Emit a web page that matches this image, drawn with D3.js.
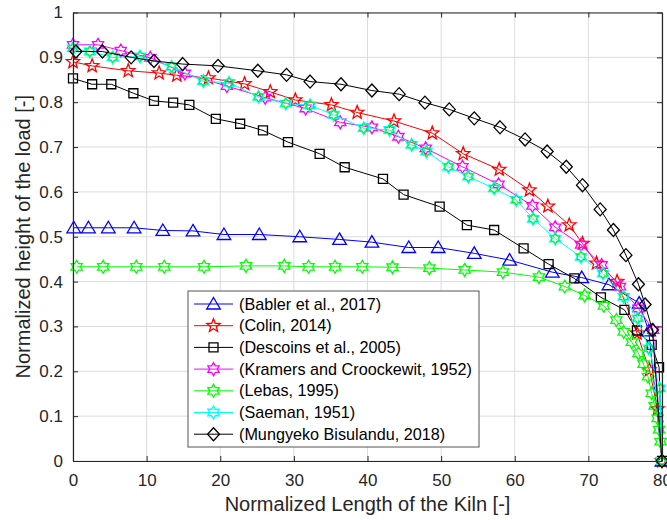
<!DOCTYPE html>
<html>
<head>
<meta charset="utf-8">
<script src="https://cdn.jsdelivr.net/npm/d3@7"></script>
<style>
  body { margin: 0; background: #fff; }
  svg { display: block; font-family: "Liberation Sans", Arial, sans-serif; }
</style>
</head>
<body>
<svg id="chart" width="667" height="520"></svg>
<script>
// values (normalized length, normalized height)
var xTicks = [0, 10, 20, 30, 40, 50, 60, 70, 80];
var yTicks = [0, 0.1, 0.2, 0.3, 0.4, 0.5, 0.6, 0.7, 0.8, 0.9, 1];

var seriesNames = ["(Babler et al., 2017)", "(Colin, 2014)", "(Descoins et al., 2005)",
                   "(Kramers and Croockewit, 1952)", "(Lebas, 1995)", "(Saeman, 1951)",
                   "(Mungyeko Bisulandu, 2018)"];

var bablerX = [0.1, 2.1, 4.8, 8.3, 12.2, 16.3, 20.5, 25.3, 30.8, 36.2, 40.6, 45.6, 49.6, 54.5, 59.3, 65.1, 69.1, 72.8, 76.9, 78.2, 80];
var bablerY = [0.52, 0.52, 0.52, 0.52, 0.514, 0.513, 0.505, 0.505, 0.50, 0.494, 0.488, 0.476, 0.476, 0.463, 0.448, 0.421, 0.409, 0.393, 0.352, 0.29, 0];

var colinX = [0, 2.6, 7.5, 11.7, 14.1, 18.4, 23.3, 26.8, 30.2, 35.1, 38.6, 43.6, 48.8, 53, 57.9, 62, 64.5, 67.4, 69.2, 71.1, 73.9, 76.6, 78.3, 79.4, 80];
var colinY = [0.89, 0.881, 0.87, 0.865, 0.86, 0.854, 0.841, 0.823, 0.805, 0.794, 0.777, 0.758, 0.731, 0.685, 0.65, 0.604, 0.568, 0.526, 0.485, 0.441, 0.40, 0.285, 0.203, 0.116, 0];

var descoinsX = [0, 2.6, 5.2, 8.2, 11, 13.6, 15.8, 19.4, 22.7, 25.8, 29.2, 33.5, 36.9, 42.1, 44.9, 49.8, 53.5, 57.2, 61.2, 64.6, 68.1, 71.7, 74.9, 76.6, 78.6, 79.6, 80];
var descoinsY = [0.853, 0.84, 0.84, 0.82, 0.803, 0.799, 0.794, 0.763, 0.752, 0.737, 0.711, 0.685, 0.655, 0.629, 0.594, 0.567, 0.526, 0.515, 0.474, 0.439, 0.407, 0.365, 0.337, 0.291, 0.259, 0.209, 0];

var kramersX = [0, 3.4, 6.5, 10.5, 15.2, 20.9, 26.1, 31.6, 36.3, 40.6, 44.2, 47.9, 52.9, 57.8, 62.4, 65.5, 69, 71.8, 74.3, 76.8, 78.8, 80];
var kramersY = [0.928, 0.928, 0.915, 0.899, 0.864, 0.836, 0.81, 0.786, 0.755, 0.744, 0.723, 0.697, 0.656, 0.617, 0.569, 0.521, 0.482, 0.437, 0.389, 0.34, 0.292, 0];

var lebasX = [0.5, 4.1, 8.6, 12.4, 17.8, 23.5, 28.7, 32, 35.6, 39.3, 43.4, 48.4, 53.2, 58.4, 63.3, 66.8, 69.5, 72.1, 73.8, 74.8, 75.9, 76.8, 77.5, 78.1, 78.6, 79, 79.4, 79.6, 79.8, 80];
var lebasY = [0.433, 0.433, 0.433, 0.433, 0.433, 0.435, 0.435, 0.433, 0.433, 0.433, 0.432, 0.43, 0.426, 0.421, 0.41, 0.389, 0.369, 0.346, 0.314, 0.288, 0.265, 0.24, 0.216, 0.188, 0.151, 0.123, 0.095, 0.07, 0.043, 0];

var saemanX = [0, 2.3, 5.4, 9.1, 13.4, 17.7, 21.2, 25.2, 28.9, 32.2, 35.4, 39.5, 43, 46, 48, 51, 53.7, 57.2, 60.2, 62.5, 65.5, 69, 72, 74.8, 76.7, 78.2, 79.7, 80];
var saemanY = [0.92, 0.913, 0.90, 0.902, 0.879, 0.847, 0.843, 0.812, 0.797, 0.793, 0.772, 0.742, 0.738, 0.705, 0.69, 0.656, 0.634, 0.608, 0.582, 0.54, 0.496, 0.455, 0.418, 0.366, 0.318, 0.251, 0.162, 0];

var mungX = [0.4, 4, 7.9, 11, 14.9, 19.7, 25.1, 29, 32.2, 36.4, 40.6, 44.3, 47.8, 51.1, 54.5, 58, 61.4, 64.4, 67, 69.2, 71.6, 73.4, 75.1, 76.8, 77.7, 78.7, 80];
var mungY = [0.913, 0.913, 0.9, 0.892, 0.885, 0.881, 0.870, 0.861, 0.846, 0.84, 0.826, 0.818, 0.799, 0.784, 0.764, 0.744, 0.717, 0.69, 0.656, 0.615, 0.561, 0.515, 0.459, 0.394, 0.349, 0.292, 0];

var svg = d3.select("#chart");
var pLeft = 73, pRight = 662, pTop = 12.5, pBottom = 461;
var axisColor = "#262626";

var x = d3.scaleLinear().domain([0, 80]).range([pLeft, pRight]);
var y = d3.scaleLinear().domain([0, 1]).range([pBottom, pTop]);

// marker paths
function starPath(n, r1, r2) {
  var pts = [];
  for (var i = 0; i < 2 * n; i++) {
    var a = -Math.PI / 2 + i * Math.PI / n;
    var r = i % 2 === 0 ? r1 : r2;
    pts.push([r * Math.cos(a), r * Math.sin(a)]);
  }
  return "M" + pts.map(function(p) { return p[0].toFixed(2) + "," + p[1].toFixed(2); }).join("L") + "Z";
}
var markerPaths = {
  triangle: "M0,-6.5L6.8,5L-6.8,5Z",
  square: "M-4.5,-4.5L4.5,-4.5L4.5,4.5L-4.5,4.5Z",
  diamond: "M0,-6.5L6,0L0,6.5L-6,0Z",
  pentagram: starPath(5, 7, 3),
  hexagram: starPath(6, 6.5, 3.75)
};

var series = [
  {name: seriesNames[0], xs: bablerX, ys: bablerY, color: "#0000ff", marker: "triangle"},
  {name: seriesNames[1], xs: colinX, ys: colinY, color: "#ff0000", marker: "pentagram"},
  {name: seriesNames[2], xs: descoinsX, ys: descoinsY, color: "#000000", marker: "square"},
  {name: seriesNames[3], xs: kramersX, ys: kramersY, color: "#ff00ff", marker: "hexagram"},
  {name: seriesNames[4], xs: lebasX, ys: lebasY, color: "#00ff00", marker: "hexagram"},
  {name: seriesNames[5], xs: saemanX, ys: saemanY, color: "#00ffff", marker: "hexagram", overlay: "#00ee00"},
  {name: seriesNames[6], xs: mungX, ys: mungY, color: "#000000", marker: "diamond"}
];

// grid
svg.append("g").selectAll("line.gx").data(xTicks).enter().append("line")
   .attr("x1", d => x(d)).attr("x2", d => x(d))
   .attr("y1", pTop).attr("y2", pBottom)
   .style("stroke", "#dcdcdc").style("stroke-width", 1);
svg.append("g").selectAll("line.gy").data(yTicks).enter().append("line")
   .attr("x1", pLeft).attr("x2", pRight)
   .attr("y1", d => y(d)).attr("y2", d => y(d))
   .style("stroke", "#dcdcdc").style("stroke-width", 1);

// data
var line = d3.line().x(d => x(d[0])).y(d => y(d[1]));
series.forEach(function(s) {
  var pts = s.xs.map(function(v, i) { return [v, s.ys[i]]; });
  var g = svg.append("g").attr("class", "series");
  g.append("path").datum(pts).attr("d", line)
   .style("fill", "none").style("stroke", s.color).style("stroke-width", 1);
  g.selectAll("path.mk").data(pts).enter().append("path")
   .attr("class", "mk")
   .attr("d", markerPaths[s.marker])
   .attr("transform", d => "translate(" + x(d[0]) + "," + y(d[1]) + ")")
   .style("fill", "none").style("stroke", s.color).style("stroke-width", 1.3);
  if (s.overlay) {
    g.selectAll("path.ov").data(pts).enter().append("path")
     .attr("class", "ov")
     .attr("d", starPath(6, 5, 3))
     .attr("transform", d => "translate(" + x(d[0]) + "," + y(d[1]) + ")")
     .style("fill", "none").style("stroke", s.overlay).style("stroke-width", 1);
  }
});

// axes box with inward ticks on all sides
var xAxisB = d3.axisBottom(x).tickValues(xTicks).tickSizeInner(-5).tickSizeOuter(0).tickPadding(13);
var xAxisT = d3.axisTop(x).tickValues(xTicks).tickSizeInner(-5).tickSizeOuter(0).tickFormat("");
var yAxisL = d3.axisLeft(y).tickValues(yTicks).tickSizeInner(-5).tickSizeOuter(0).tickPadding(10).tickFormat(d3.format("~g"));
var yAxisR = d3.axisRight(y).tickValues(yTicks).tickSizeInner(-5).tickSizeOuter(0).tickFormat("");

function styleAxis(g) {
  g.select(".domain").style("stroke", axisColor).style("stroke-width", 1.2);
  g.selectAll(".tick line").style("stroke", axisColor).style("stroke-width", 1);
  g.selectAll(".tick text").style("fill", axisColor).style("font-size", "17px")
   .style("font-family", "'Liberation Sans', Arial, sans-serif");
}
svg.append("g").attr("transform", "translate(0," + pBottom + ")").call(xAxisB).call(styleAxis);
svg.append("g").attr("transform", "translate(0," + pTop + ")").call(xAxisT).call(styleAxis);
svg.append("g").attr("transform", "translate(" + pLeft + ",0)").call(yAxisL).call(styleAxis);
svg.append("g").attr("transform", "translate(" + pRight + ",0)").call(yAxisR).call(styleAxis);

// axis labels
svg.append("text")
   .attr("x", (pLeft + pRight) / 2).attr("y", 511)
   .attr("text-anchor", "middle")
   .style("font-size", "20px").style("fill", axisColor)
   .text("Normalized Length of the Kiln [-]");
svg.append("text")
   .attr("transform", "translate(30," + ((pTop + pBottom) / 2) + ") rotate(-90)")
   .attr("text-anchor", "middle")
   .style("font-size", "20px").style("fill", axisColor)
   .text("Normalized height of the load [-]");

// legend
var lg = svg.append("g").attr("transform", "translate(188,291)");
lg.append("rect").attr("width", 291).attr("height", 156)
  .style("fill", "#fff").style("stroke", "#555").style("stroke-width", 1);
var rows = lg.selectAll("g.row").data(series).enter().append("g")
  .attr("transform", (d, i) => "translate(0," + (13 + i * 21.7) + ")");
rows.append("line").attr("x1", 6).attr("x2", 45)
  .style("stroke", d => d.color).style("stroke-width", 1);
rows.append("path").attr("d", d => markerPaths[d.marker])
  .attr("transform", "translate(25.5,0)")
  .style("fill", "none").style("stroke", d => d.color).style("stroke-width", 1.3);
rows.append("text").attr("x", 51).attr("dy", "0.35em")
  .style("font-size", "16.2px").style("fill", "#000")
  .text(d => d.name);
</script>
</body>
</html>
